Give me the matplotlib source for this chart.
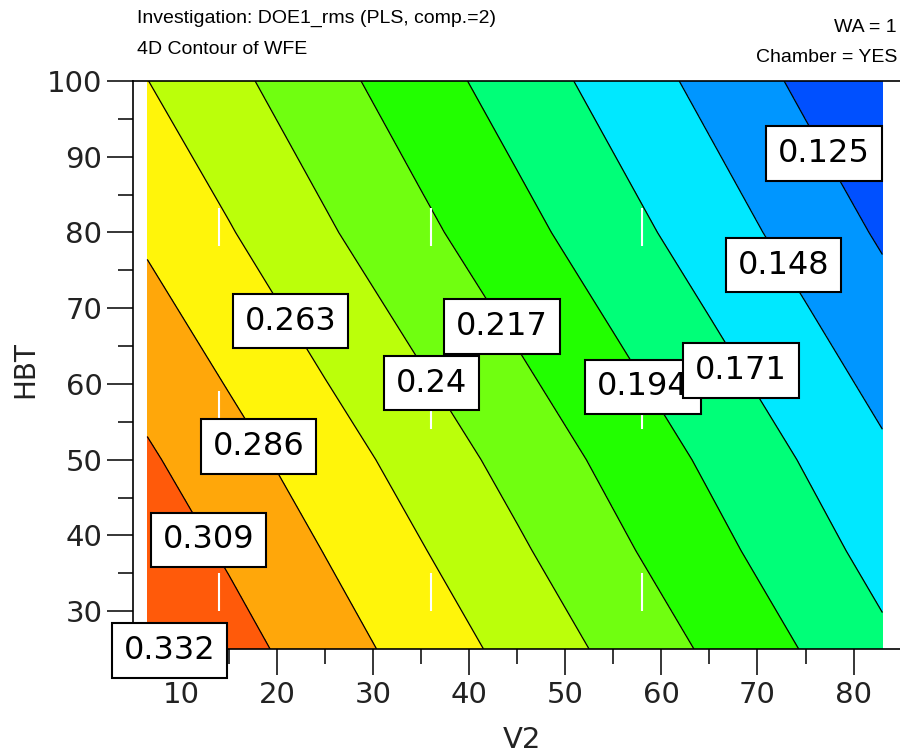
import numpy as np
import matplotlib
matplotlib.use('Agg')
import matplotlib.pyplot as plt
from matplotlib.ticker import MultipleLocator

# 读图估计的数据
v2 = [6.5, 15, 25, 35, 45, 55, 65, 75, 83]
hbt = [25, 38, 50, 80, 100]
wfe = [
    [0.335, 0.318, 0.297, 0.2765, 0.2557, 0.2347, 0.2136, 0.1925, 0.1757],
    [0.323, 0.306, 0.2853, 0.2643, 0.2433, 0.2219, 0.2009, 0.1799, 0.163],
    [0.312, 0.295, 0.2741, 0.2531, 0.2321, 0.2111, 0.1902, 0.1691, 0.152],
    [0.2825, 0.2645, 0.243, 0.222, 0.2014, 0.1806, 0.1597, 0.1387, 0.1221],
    [0.2633, 0.2457, 0.2248, 0.204, 0.1833, 0.1624, 0.1414, 0.1203, 0.1036],
]
levels = [0.125, 0.148, 0.171, 0.194, 0.217, 0.24, 0.263, 0.286, 0.309, 0.332]
band_colors = ['#0050FF', '#0096FF', '#00E8FF', '#00FF78', '#22FF00', '#70FF10',
               '#BBFF0A', '#FFF50A', '#FFA70A', '#FF5A0A', '#FF2A00']

# 等值线标签位置 (V2, HBT)
label_pos = {0.332: (8.8, 24.8), 0.309: (12.9, 39.4), 0.286: (18.1, 51.7),
             0.263: (21.4, 68.3), 0.24: (36.1, 60.1), 0.217: (43.4, 67.6),
             0.194: (58.1, 59.6), 0.171: (68.3, 61.8), 0.148: (72.7, 75.7),
             0.125: (76.9, 90.4)}

# 设计点
point_v2 = [14, 36, 58]
point_hbt = [32.5, 56.5, 80.7]

fig = plt.figure(figsize=(9, 7.56), dpi=100)
ax = fig.add_axes([133/900, (756-649)/756, 767/900, (649-81)/756])

X, Y = np.meshgrid(v2, hbt)
Z = np.array(wfe)
fill_levels = [0.05] + levels + [0.4]
ax.contourf(X, Y, Z, levels=fill_levels, colors=band_colors)
ax.contour(X, Y, Z, levels=levels, colors='k', linewidths=0.9)

px, py = np.meshgrid(point_v2, point_hbt)
ax.plot(px.ravel(), py.ravel(), ls='none', marker='|', ms=27, mew=1.5, color='white')

for lv in sorted(label_pos, reverse=True):
    x, y = label_pos[lv]
    ax.text(x, y, f'{lv:g}', fontsize=23, ha='center', va='center', zorder=5,
            bbox=dict(boxstyle='square,pad=0.37', fc='white', ec='black', lw=1.5),
            clip_on=False)

ax.set_xlim(5.02, 84.83)
ax.set_ylim(25, 100)
ax.spines['right'].set_visible(False)
for s in ['left', 'top', 'bottom']:
    ax.spines[s].set_linewidth(1.2)
ax.xaxis.set_minor_locator(MultipleLocator(5))
ax.yaxis.set_minor_locator(MultipleLocator(5))
ax.set_xticks(range(10, 81, 10))
ax.set_yticks(range(30, 101, 10))
ax.tick_params(which='major', direction='out', length=19, width=1.1, labelsize=21,
               labelcolor='#222222')
ax.tick_params(which='minor', direction='out', length=11, width=1.1)
ax.tick_params(axis='y', which='major', pad=3)
ax.tick_params(axis='x', which='major', pad=4)

fig.text(25/900, 1-370/756, 'HBT', rotation=90, fontsize=20, ha='center', va='center',
         color='#222222')
fig.text(522/900, 1-740/756, 'V2', fontsize=21, ha='center', va='center', color='#222222')

fig.text(137/900, 1-18/756, 'Investigation: DOE1_rms (PLS, comp.=2)', fontsize=14,
         family='Liberation Sans', va='center')
fig.text(137/900, 1-50/756, '4D Contour of WFE', fontsize=14,
         family='Liberation Sans', va='center')
fig.text(897/900, 1-28/756, 'WA = 1', fontsize=14, family='Liberation Sans',
         ha='right', va='center')
fig.text(897/900, 1-58/756, 'Chamber = YES', fontsize=14, family='Liberation Sans',
         ha='right', va='center')

plt.savefig('out.png', dpi=100)
